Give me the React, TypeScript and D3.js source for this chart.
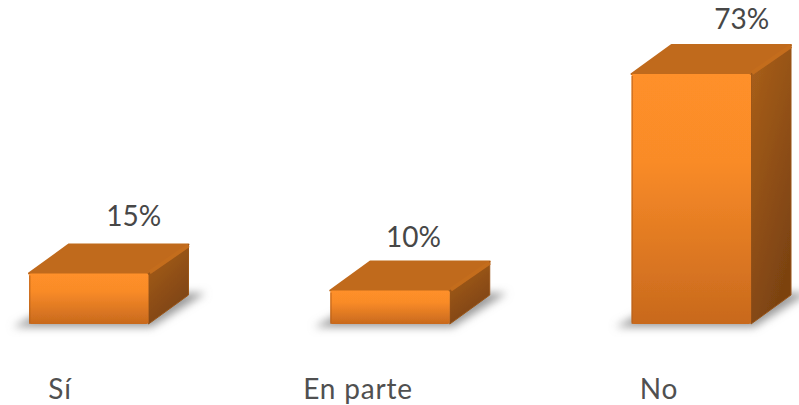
import React from "react";
import * as d3 from "d3";

const categories = ["Sí", "En parte", "No"];
const values = [15, 10, 73];

const W = 799;
const H = 405;
const font = "Lato, 'Open Sans', sans-serif";

// 3d box offset
const depthX = 40;
const depthY = 29;

// the labels in the picture are not centred on their boxes, nudged by hand
const valueNudge = [44.5, 23, 50];
const valueLift = [47, 44, 45];
const categoryCentre = [60, 358, 659];

const x = d3.scaleBand<string>().domain(categories).range([29, 752]).paddingInner(0.6);
const y = d3.scaleLinear().domain([0, 73]).range([325, 74]);

const poly = d3.line<[number, number]>();

export default function App() {
  const w = x.bandwidth();
  return (
    <svg
      width={W}
      height={H}
      viewBox={`0 0 ${W} ${H}`}
      style={{ position: "absolute", left: 0, top: 0, background: "#fff" }}
    >
      <defs>
        <linearGradient id="front" x1="0" y1="0" x2="0" y2="1">
          <stop offset="0" stopColor="#ff9029" />
          <stop offset="0.35" stopColor="#f98b28" />
          <stop offset="1" stopColor="#c8691d" />
        </linearGradient>
        <linearGradient id="side" x1="0" y1="0" x2="0.5" y2="1">
          <stop offset="0" stopColor="#ab601b" />
          <stop offset="1" stopColor="#7c4311" />
        </linearGradient>
        <filter id="blur" x="-30%" y="-60%" width="160%" height="220%">
          <feGaussianBlur stdDeviation="4.5" />
        </filter>
        <filter id="soft" x="-5%" y="-5%" width="110%" height="110%">
          <feGaussianBlur stdDeviation="0.6" />
        </filter>
      </defs>

      {categories.map((c, i) => {
        const x0 = x(c) as number;
        const x1 = x0 + w;
        const top = y(values[i]);
        const base = y(0);
        return (
          <g key={c}>
            <path
              d={
                poly([
                  [x0 - 16, base + 2],
                  [x1 + 2, base + 2],
                  [x1 + 56, base - 32],
                  [x1 + 30, base - 32],
                  [x0 + 10, base - 12],
                ]) + "Z"
              }
              fill="#9a9a9a"
              filter="url(#blur)"
            />
            <g filter="url(#soft)">
              {/* top face */}
              <path
                d={
                  poly([
                    [x0, top],
                    [x0 + depthX, top - depthY],
                    [x1 + depthX - 1, top - depthY],
                    [x1 - 1, top],
                  ]) + "Z"
                }
                fill="#c06a1c"
                stroke="#c06a1c"
                strokeWidth={2}
                strokeLinejoin="round"
              />
              {/* side face */}
              <path
                d={
                  poly([
                    [x1 - 1, top],
                    [x1 + depthX - 1, top - depthY],
                    [x1 + depthX - 1, base - depthY - 1],
                    [x1 - 1, base - 1],
                  ]) + "Z"
                }
                fill="url(#side)"
                stroke="#9a5518"
                strokeWidth={1}
                strokeLinejoin="round"
              />
              {/* bevel along the top right edge */}
              <path
                d={
                  poly([
                    [x1, top - 1],
                    [x1 + depthX - 1, top - depthY + 1],
                  ]) ?? ""
                }
                fill="none"
                stroke="#c46d1e"
                strokeWidth={4}
              />
              {/* front face */}
              <rect
                x={x0}
                y={top}
                width={w - 1}
                height={base - top - 1}
                rx={2}
                fill="url(#front)"
              />
              <rect x={x0} y={top + 2} width={1.5} height={base - top - 3} fill="#b5611c" opacity={0.6} />
            </g>
            <text
              x={x0 + w / 2 + valueNudge[i]}
              y={top - valueLift[i]}
              textAnchor="middle"
              fontFamily={font}
              fontSize={28}
              fill="#474747"
            >
              {values[i]}%
            </text>
            <text
              x={categoryCentre[i]}
              y={399}
              textAnchor="middle"
              fontFamily={font}
              fontSize={28}
              letterSpacing={0.8}
              fill="#505050"
            >
              {c}
            </text>
          </g>
        );
      })}
    </svg>
  );
}
